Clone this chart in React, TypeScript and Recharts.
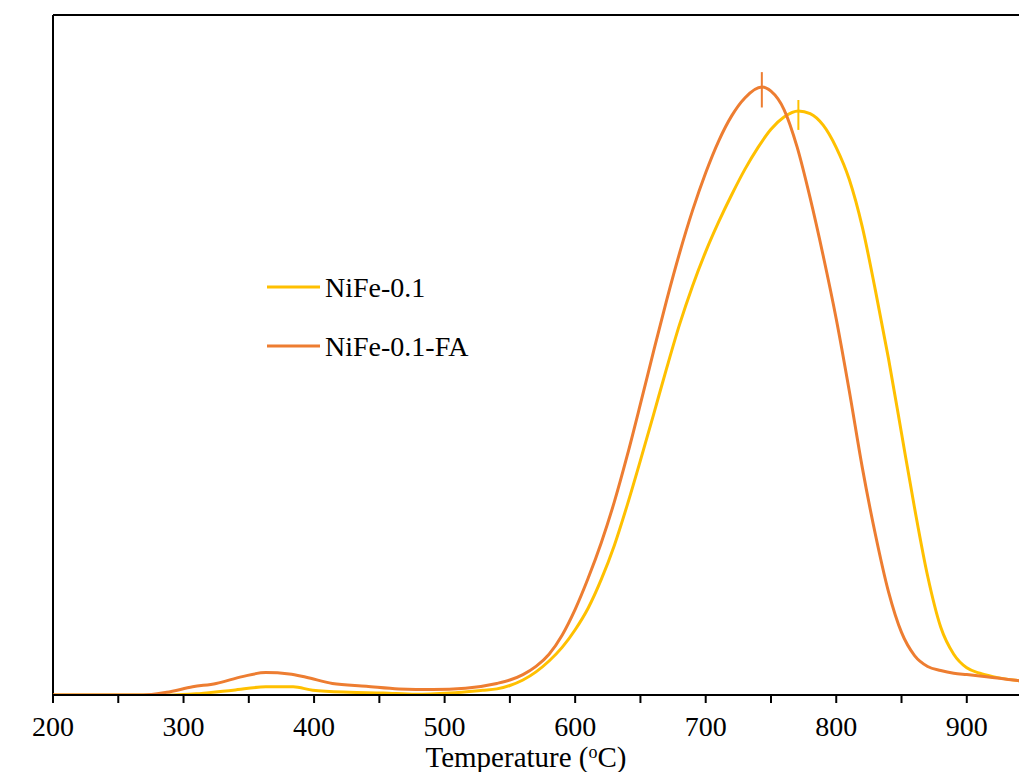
import React from 'react';
import { LineChart, Line, XAxis, YAxis, ReferenceLine, Legend } from 'recharts';

// NiFe-0.1 (yellow)
const nife01Temp = [200, 260, 292, 312, 338, 363, 384, 399, 427, 453, 478, 504, 529, 540, 550, 560, 570, 580, 590, 600, 610, 620, 630, 640, 650, 660, 670, 680, 690, 700, 710, 720, 730, 740, 750, 760, 771, 780, 790, 800, 810, 820, 830, 840, 850, 860, 870, 880, 890, 900, 910, 920, 940];
const nife01Signal = [0, 0, 0, 0.2, 0.7, 1.2, 1.2, 0.7, 0.4, 0.3, 0.1, 0.3, 0.7, 0.9, 1.4, 2.2, 3.4, 5.0, 7.0, 9.6, 12.8, 17.0, 22.0, 28.0, 34.5, 41.2, 48.0, 54.5, 60.2, 65.2, 69.6, 73.6, 77.3, 80.5, 83.2, 85.0, 85.9, 85.5, 83.8, 80.5, 75.8, 68.8, 59.5, 49.5, 38.5, 27.5, 17.5, 10.0, 6.0, 4.0, 3.2, 2.7, 2.1];

// NiFe-0.1-FA (orange)
const nife01FaTemp = [200, 243, 269, 287, 307, 325, 345, 363, 381, 394, 414, 440, 465, 491, 516, 540, 550, 560, 570, 580, 590, 600, 610, 620, 630, 640, 650, 660, 670, 680, 690, 700, 710, 720, 730, 743, 750, 760, 770, 780, 790, 800, 810, 820, 830, 840, 850, 860, 870, 880, 890, 900, 915, 940];
const nife01FaSignal = [0, 0, 0, 0.4, 1.2, 1.7, 2.7, 3.3, 3.1, 2.6, 1.7, 1.3, 0.9, 0.8, 1.0, 1.7, 2.2, 3.0, 4.2, 6.0, 8.8, 12.6, 17.2, 22.4, 28.4, 35.3, 42.8, 50.5, 58.0, 65.0, 71.3, 76.8, 81.5, 85.2, 87.8, 89.4, 88.8, 86.1, 80.6, 73.1, 64.6, 55.3, 44.7, 33.4, 23.6, 15.2, 9.2, 5.8, 4.2, 3.6, 3.2, 3.0, 2.7, 2.1];

const seriesNames = ['NiFe-0.1', 'NiFe-0.1-FA'];
const seriesColors = ['#FFC000', '#ED7D31'];

// Peak markers: [temperature, low, high]
const peakNife01 = [771, 83.1, 87.5];
const peakNife01Fa = [743, 86.4, 91.6];

const xTicks = [200, 250, 300, 350, 400, 450, 500, 550, 600, 650, 700, 750, 800, 850, 900];
const xDomain = [200, 940];
const yDomain = [0, 100];

const nife01Data = nife01Temp.map((t, i) => ({ t, v: nife01Signal[i] }));
const nife01FaData = nife01FaTemp.map((t, i) => ({ t, v: nife01FaSignal[i] }));

const FONT = '"Liberation Serif", "Times New Roman", serif';

const LegendContent = () => (
  <svg width={260} height={110} style={{ overflow: 'visible' }}>
    {seriesNames.map((name, i) => (
      <g key={name}>
        <line x1={5} x2={58} y1={25 + i * 59} y2={25 + i * 59} stroke={seriesColors[i]} strokeWidth={3} />
        <text x={63} y={35 + i * 59} fontFamily={FONT} fontSize={28} fill="#000">{name}</text>
      </g>
    ))}
  </svg>
);

export default function App() {
  return (
    <div style={{ position: 'absolute', left: 0, top: 0, width: 1019, height: 772, background: '#fff' }}>
      <LineChart width={1019} height={772} margin={{ top: 15, right: 0, bottom: 0, left: 53 }}>
        <XAxis
          type="number"
          dataKey="t"
          domain={xDomain}
          ticks={xTicks}
          allowDataOverflow
          height={77}
          stroke="#000"
          strokeWidth={2}
          tickSize={8}
          tickMargin={13}
          tickLine={{ stroke: '#000', strokeWidth: 2 }}
          tick={{ fill: '#000', fontSize: 28, fontFamily: FONT }}
          tickFormatter={(v) => (v % 100 === 0 ? String(v) : '')}
          label={{
            content: () => (
              <text x={526} y={767} textAnchor="middle" fontFamily={FONT} fontSize={29} fill="#000">
                Temperature (<tspan fontSize={18} dy={-9}>o</tspan><tspan dy={9}>C)</tspan>
              </text>
            ),
          }}
        />
        <YAxis
          type="number"
          domain={yDomain}
          allowDataOverflow
          width={0}
          tick={false}
          tickLine={false}
          stroke="#000"
          strokeWidth={2}
          label={{
            content: () => (
              <text
                x={34}
                y={351}
                transform="rotate(-90 34 351)"
                textAnchor="middle"
                fontFamily={FONT}
                fontSize={29}
                fill="#000"
              >
                TCD signal (a.u)
              </text>
            ),
          }}
        />
        <ReferenceLine y={100} stroke="#000" strokeWidth={2} ifOverflow="visible" />
        <ReferenceLine x={200} stroke="#000" strokeWidth={2} ifOverflow="visible" />
        <Line
          data={nife01Data}
          dataKey="v"
          name={seriesNames[0]}
          type="monotone"
          stroke={seriesColors[0]}
          strokeWidth={3}
          dot={false}
          isAnimationActive={false}
        />
        <Line
          data={nife01FaData}
          dataKey="v"
          name={seriesNames[1]}
          type="monotone"
          stroke={seriesColors[1]}
          strokeWidth={3}
          dot={false}
          isAnimationActive={false}
        />
        <ReferenceLine
          segment={[{ x: peakNife01[0], y: peakNife01[1] }, { x: peakNife01[0], y: peakNife01[2] }]}
          stroke={seriesColors[0]}
          strokeWidth={2}
        />
        <ReferenceLine
          segment={[{ x: peakNife01Fa[0], y: peakNife01Fa[1] }, { x: peakNife01Fa[0], y: peakNife01Fa[2] }]}
          stroke={seriesColors[1]}
          strokeWidth={2}
        />
        <Legend
          layout="vertical"
          align="center"
          verticalAlign="middle"
          content={<LegendContent />}
          wrapperStyle={{ left: 262, top: 262, width: 260, height: 110 }}
        />
      </LineChart>
    </div>
  );
}
